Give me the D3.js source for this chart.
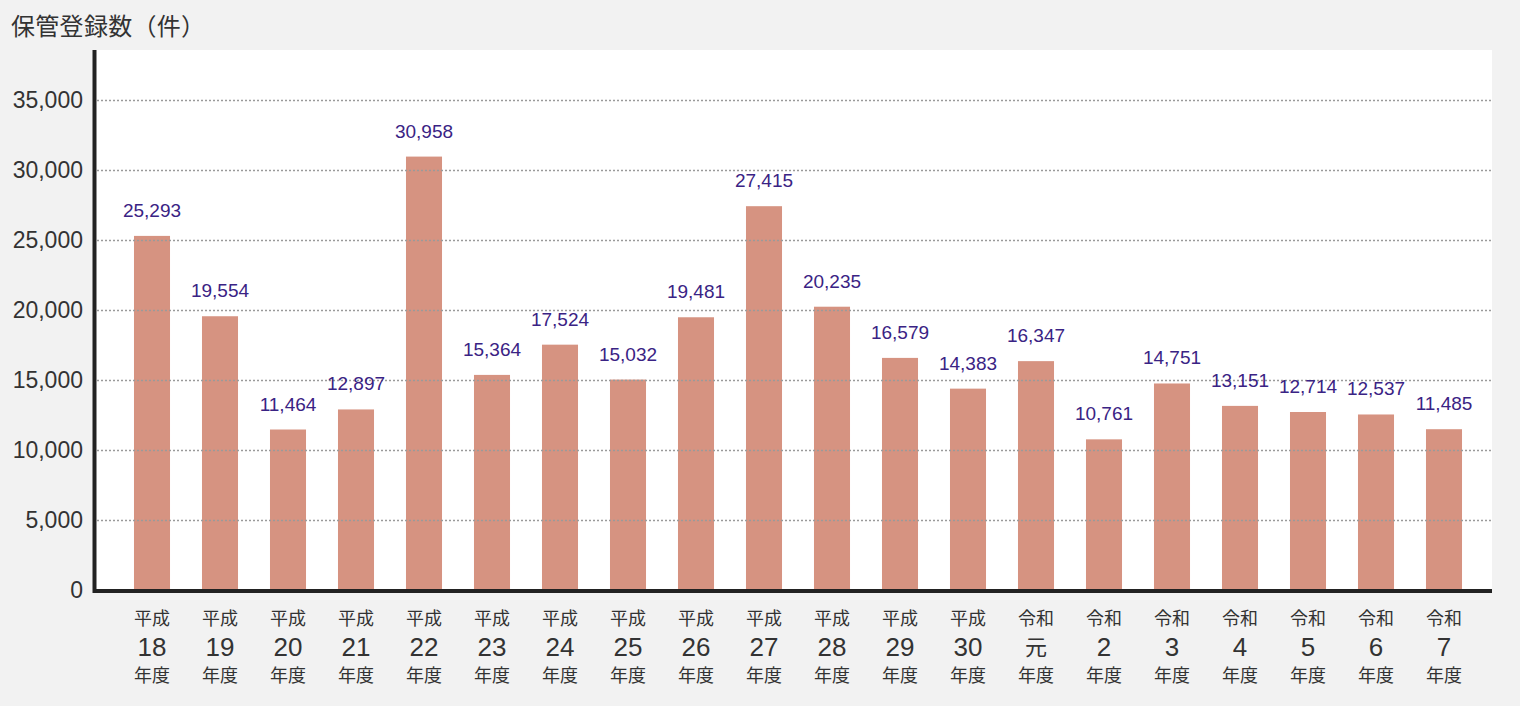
<!DOCTYPE html>
<html lang="ja">
<head>
<meta charset="utf-8">
<script src="https://cdn.jsdelivr.net/npm/d3@7"></script>
<style>
  html, body { margin: 0; padding: 0; background: #f2f2f2; }
  svg { display: block; font-family: "Noto Sans CJK JP", "Noto Sans", sans-serif; }
</style>
</head>
<body>
<div id="chart"></div>
<script>
// era / year labels for each fiscal year
const eras = ["平成","平成","平成","平成","平成","平成","平成","平成","平成","平成","平成","平成","平成",
              "令和","令和","令和","令和","令和","令和","令和"];
const years = ["18","19","20","21","22","23","24","25","26","27","28","29","30",
               "元","2","3","4","5","6","7"];
const counts = [25293, 19554, 11464, 12897, 30958, 15364, 17524, 15032, 19481, 27415,
                20235, 16579, 14383, 16347, 10761, 14751, 13151, 12714, 12537, 11485];
const yTicks = [0, 5000, 10000, 15000, 20000, 25000, 30000, 35000];

const width = 1520, height = 706;
const plotLeft = 95, plotRight = 1492, plotTop = 50, plotBottom = 590;
const numFont = "'Liberation Sans', Arial, sans-serif";

const svg = d3.select("#chart").append("svg")
  .attr("width", width)
  .attr("height", height);

// title
svg.append("text")
  .attr("x", 11)
  .attr("y", 35)
  .attr("font-size", 24)
  .attr("letter-spacing", 0.3)
  .attr("fill", "#333")
  .text("保管登録数（件）");

// white plot panel
svg.append("rect")
  .attr("x", plotLeft)
  .attr("y", plotTop)
  .attr("width", plotRight - plotLeft)
  .attr("height", plotBottom - plotTop)
  .attr("fill", "#fff");

const x = d3.scaleBand()
  .domain(d3.range(counts.length))
  .range([118, 1478])
  .paddingInner(0.47)
  .paddingOuter(0.235);

const y = d3.scaleLinear()
  .domain([0, 35000])
  .range([plotBottom, 100]);

// bars
svg.append("g").selectAll("rect")
  .data(counts)
  .join("rect")
  .attr("x", (d, i) => x(i))
  .attr("y", d => y(d))
  .attr("width", x.bandwidth())
  .attr("height", d => plotBottom - y(d))
  .attr("fill", "#d69381");

// dotted gridlines on top of bars
svg.append("g").selectAll("line")
  .data(yTicks.filter(t => t > 0))
  .join("line")
  .attr("x1", plotLeft + 2)
  .attr("x2", plotRight)
  .attr("y1", d => Math.round(y(d)) + 0.5)
  .attr("y2", d => Math.round(y(d)) + 0.5)
  .attr("stroke", "#9a9a9a")
  .attr("stroke-width", 1.5)
  .attr("stroke-dasharray", "2,2");

// y tick labels
svg.append("g").selectAll("text")
  .data(yTicks)
  .join("text")
  .attr("x", 83)
  .attr("y", d => y(d) + 8)
  .attr("text-anchor", "end")
  .attr("font-size", 23)
  .attr("fill", "#333")
  .attr("font-family", numFont)
  .text(d => d3.format(",")(d));

// value labels
svg.append("g").selectAll("text")
  .data(counts)
  .join("text")
  .attr("x", (d, i) => x(i) + x.bandwidth() / 2)
  .attr("y", d => y(d) - 19)
  .attr("text-anchor", "middle")
  .attr("font-size", 19)
  .attr("fill", "#3a2384")
  .attr("font-family", numFont)
  .text(d => d3.format(",")(d));

// axes lines
svg.append("line")
  .attr("x1", 94.5).attr("x2", 94.5)
  .attr("y1", plotTop).attr("y2", plotBottom + 3)
  .attr("stroke", "#222").attr("stroke-width", 4);
svg.append("line")
  .attr("x1", 93).attr("x2", plotRight)
  .attr("y1", plotBottom + 1).attr("y2", plotBottom + 1)
  .attr("stroke", "#222").attr("stroke-width", 4);

// x labels (three lines)
const xl = svg.append("g").selectAll("g")
  .data(counts.map((c, i) => i))
  .join("g")
  .attr("transform", i => `translate(${x(i) + x.bandwidth() / 2},0)`)
  .attr("text-anchor", "middle")
  .attr("fill", "#333");

xl.append("text")
  .attr("y", 625)
  .attr("font-size", 18)
  .text(i => eras[i]);
xl.append("text")
  .attr("y", i => years[i] === "元" ? 655 : 656)
  .attr("font-size", i => years[i] === "元" ? 22 : 26)
  .attr("font-family", i => years[i] === "元" ? "'Noto Sans CJK JP', sans-serif" : numFont)
  .text(i => years[i]);
xl.append("text")
  .attr("y", 682)
  .attr("font-size", 18)
  .text(i => "年度");
</script>
</body>
</html>
